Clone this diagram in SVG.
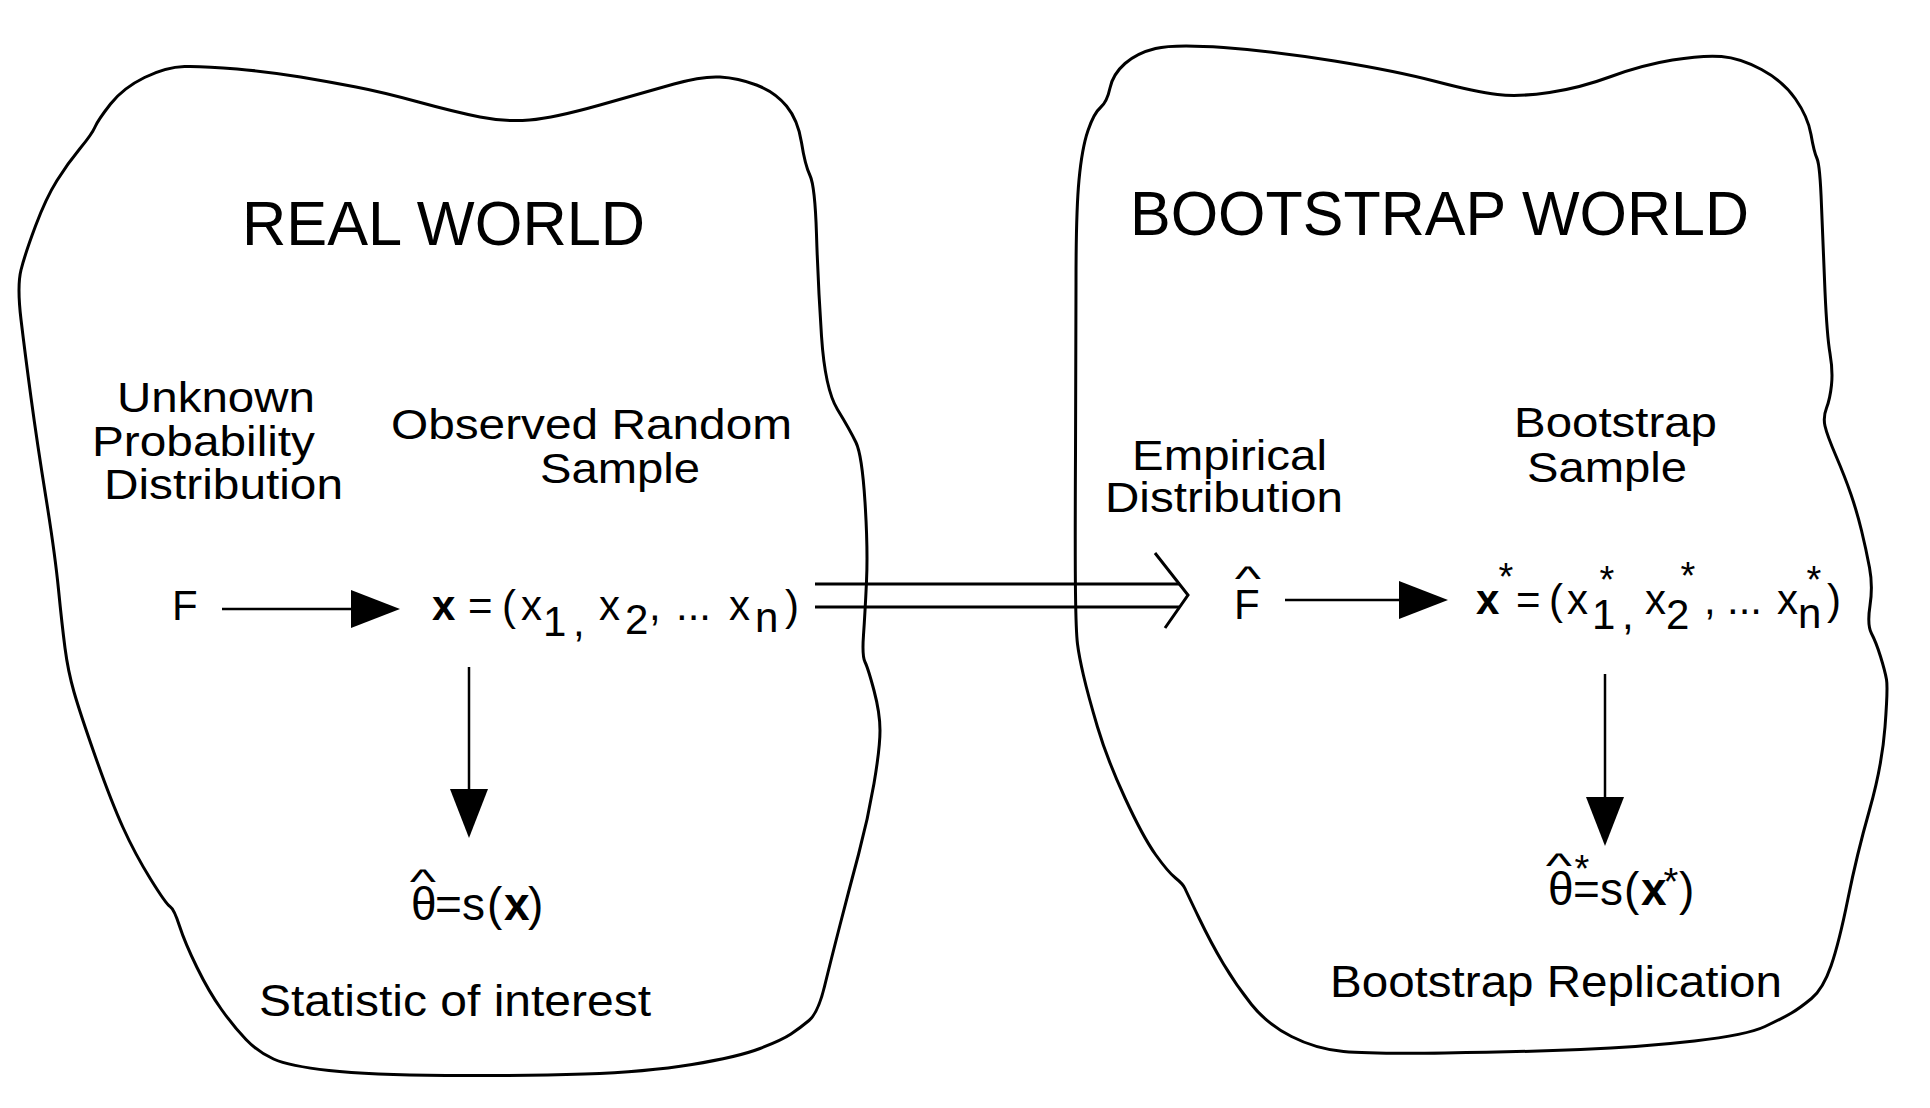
<svg xmlns="http://www.w3.org/2000/svg" width="1930" height="1108" viewBox="0 0 1930 1108">
<defs>
<style>
text { font-family: "Liberation Sans", Arial, Helvetica, sans-serif; fill: #000; }
.title { font-size: 63px; }
.lbl { font-size: 43px; }
.bot { font-size: 44px; }
.eq { font-size: 42px; }
.th { font-size: 46px; }
.b { font-weight: bold; }
.star { font-size: 38px; }
.hat { font-size: 40px; }
.blob { fill: none; stroke: #000; stroke-width: 3; stroke-linejoin: round; }
.arrow { stroke: #000; stroke-width: 2.5; fill: none; }
.dbl { stroke: #000; stroke-width: 3; fill: none; stroke-linejoin: miter; }
</style>
<marker id="ah" markerUnits="userSpaceOnUse" markerWidth="50" markerHeight="40" viewBox="0 0 50 40" refX="39" refY="19" orient="auto">
<path d="M0,0 L49,19 L0,38 Z" fill="#000"/>
</marker>
</defs>
<rect width="1930" height="1108" fill="#fff"/>

<g id="real-world">
<path class="blob" d="M144.5,77.5 Q166,67 184.5,66.5 Q203,66 237,69 Q271,72 300.5,77 Q330,82 356,87 Q382,92 418.5,102 Q455,112 480,117 Q505,122 529.5,120 Q554,118 600,105 Q646,92 674,84 Q702,76 720,77 Q738,78 756.5,85 Q775,92 786.5,106 Q798,120 801.5,142.5 Q805,165 810,175.5 Q815,186 816.5,234.5 Q818,283 821.5,336 Q825,389 837.5,409.5 Q850,430 856,442.5 Q862,455 865,502 Q868,549 866.5,581.5 Q865,614 863.5,635 Q862,656 865,662 Q868,668 874,690.5 Q880,713 880,730.5 Q880,748 874,783.5 Q868,819 858.5,854.5 Q849,890 840,925 Q831,960 824.5,986.5 Q818,1013 809,1020.5 Q800,1028 791,1034 Q782,1040 760,1048.5 Q738,1057 692,1064.5 Q646,1072 584.5,1074 Q523,1076 446,1075.5 Q369,1075 329,1070.5 Q289,1066 273.5,1059 Q258,1052 246,1039.5 Q234,1027 221.5,1009.5 Q209,992 197,967.5 Q185,943 179.5,926 Q174,909 170,906.5 Q166,904 150.5,879 Q135,854 123,827.5 Q111,801 95.5,757 Q80,713 74,692 Q68,671 65,648 Q62,625 58.5,589.5 Q55,554 46,498 Q37,442 31,397.5 Q25,353 21,319.5 Q17,286 21,270 Q25,254 35.5,226 Q46,198 57,180.5 Q68,163 80,148.5 Q92,134 95,127 Q98,120 110.5,104 Q123,88 144.5,77.5 Z"/>
<text class="title" x="242" y="245" textLength="403" lengthAdjust="spacingAndGlyphs">REAL WORLD</text>
</g>

<g id="bootstrap-world">
<path class="blob" d="M1155.5,48.5 Q1174,44 1223.5,47.5 Q1273,51 1334.5,61 Q1396,71 1436,81.5 Q1476,92 1497.5,94.5 Q1519,97 1549.5,92.5 Q1580,88 1611,76.5 Q1642,65 1672.5,60 Q1703,55 1721.5,56.5 Q1740,58 1761.5,69.5 Q1783,81 1795.5,99 Q1808,117 1811,134.5 Q1814,152 1817,158.5 Q1820,165 1821.5,206 Q1823,247 1825,291.5 Q1827,336 1830,353.5 Q1833,371 1831.5,385 Q1830,399 1826.5,408 Q1823,417 1825,426 Q1827,435 1836,456 Q1845,477 1851,494.5 Q1857,512 1861.5,530.5 Q1866,549 1869.5,567.5 Q1873,586 1870,605.5 Q1867,625 1871.5,633.5 Q1876,642 1880.5,656.5 Q1885,671 1886.5,679.5 Q1888,688 1885,727 Q1882,766 1869.5,810 Q1857,854 1848,898.5 Q1839,943 1831,966 Q1823,989 1811.5,998.5 Q1800,1008 1791.5,1013 Q1783,1018 1765,1026.5 Q1747,1035 1694.5,1041 Q1642,1047 1580.5,1049.5 Q1519,1052 1445,1053 Q1371,1054 1343.5,1051.5 Q1316,1049 1291.5,1036.5 Q1267,1024 1251.5,1004.5 Q1236,985 1223.5,964 Q1211,943 1199,918 Q1187,893 1185,888.5 Q1183,884 1175.5,878 Q1168,872 1155.5,854.5 Q1143,837 1125,798 Q1107,759 1097.5,727 Q1088,695 1083.5,675.5 Q1079,656 1077.5,644 Q1076,632 1075.5,593 Q1075,554 1075.5,453.5 Q1076,353 1076,282.5 Q1076,212 1079,180 Q1082,148 1088,130.5 Q1094,113 1100.5,107.5 Q1107,102 1110,88 Q1113,74 1125,63.5 Q1137,53 1155.5,48.5 Z"/>
<text class="title" x="1130" y="235" textLength="619" lengthAdjust="spacingAndGlyphs">BOOTSTRAP WORLD</text>
</g>

<g id="connectors">
<line class="arrow" x1="222" y1="609" x2="390" y2="609" marker-end="url(#ah)"/>
<line class="arrow" x1="1285" y1="600" x2="1438" y2="600" marker-end="url(#ah)"/>
<line class="arrow" x1="469" y1="667" x2="469" y2="828" marker-end="url(#ah)"/>
<line class="arrow" x1="1605" y1="674" x2="1605" y2="836" marker-end="url(#ah)"/>
<path class="dbl" d="M815,584 H1180 M815,607 H1179"/>
<polyline class="dbl" points="1155,553 1188,595 1165,628"/>
</g>

<g id="unknown-distribution">
<text class="lbl" x="117" y="412" textLength="198" lengthAdjust="spacingAndGlyphs">Unknown</text>
<text class="lbl" x="92" y="456" textLength="223" lengthAdjust="spacingAndGlyphs">Probability</text>
<text class="lbl" x="104" y="499" textLength="239" lengthAdjust="spacingAndGlyphs">Distribution</text>
</g>

<g id="observed-sample">
<text class="lbl" x="391" y="439" textLength="401" lengthAdjust="spacingAndGlyphs">Observed Random</text>
<text class="lbl" x="540" y="483" textLength="160" lengthAdjust="spacingAndGlyphs">Sample</text>
</g>

<g id="node-F">
<text class="eq" x="172" y="620">F</text>
</g>

<g id="node-x">
<text class="eq" y="620"><tspan x="432" class="b">x</tspan><tspan x="468">=</tspan><tspan x="502">(</tspan><tspan x="521">x</tspan><tspan x="543" y="636">1</tspan><tspan x="573" y="636">,</tspan><tspan x="599" y="620">x</tspan><tspan x="625" y="634">2</tspan><tspan x="649" y="620">,</tspan><tspan x="676">...</tspan><tspan x="729">x</tspan><tspan x="755" y="632">n</tspan><tspan x="785" y="620">)</tspan></text>
</g>

<g id="node-theta">
<text class="hat" text-anchor="middle" transform="translate(423,894) scale(1.4,0.9)">^</text>
<text class="th" y="920"><tspan x="411">θ</tspan><tspan x="435">=</tspan><tspan x="462">s</tspan><tspan x="487">(</tspan><tspan x="504" class="b">x</tspan><tspan x="528">)</tspan></text>
</g>

<g id="statistic-label">
<text class="bot" x="259" y="1016" textLength="392" lengthAdjust="spacingAndGlyphs">Statistic of interest</text>
</g>

<g id="empirical-distribution">
<text class="lbl" x="1132" y="470" textLength="195" lengthAdjust="spacingAndGlyphs">Empirical</text>
<text class="lbl" x="1105" y="512" textLength="238" lengthAdjust="spacingAndGlyphs">Distribution</text>
</g>

<g id="bootstrap-sample">
<text class="lbl" x="1514" y="437" textLength="203" lengthAdjust="spacingAndGlyphs">Bootstrap</text>
<text class="lbl" x="1527" y="482" textLength="160" lengthAdjust="spacingAndGlyphs">Sample</text>
</g>

<g id="node-Fhat">
<text class="hat" text-anchor="middle" transform="translate(1248,591) scale(1.4,0.9)">^</text>
<text class="eq" x="1234" y="619">F</text>
</g>

<g id="node-xstar">
<text class="eq" y="614"><tspan x="1476" class="b">x</tspan><tspan x="1516">=</tspan><tspan x="1549">(</tspan><tspan x="1567">x</tspan><tspan x="1592" y="629">1</tspan><tspan x="1622" y="629">,</tspan><tspan x="1645" y="614">x</tspan><tspan x="1666" y="629">2</tspan><tspan x="1704" y="614">,</tspan><tspan x="1727">...</tspan><tspan x="1777">x</tspan><tspan x="1798" y="628">n</tspan><tspan x="1827" y="614">)</tspan></text>
<text class="star" text-anchor="middle" x="1506" y="590">*</text>
<text class="star" text-anchor="middle" x="1607" y="593">*</text>
<text class="star" text-anchor="middle" x="1688" y="589">*</text>
<text class="star" text-anchor="middle" x="1814" y="593">*</text>
</g>

<g id="node-thetastar">
<text class="hat" text-anchor="middle" transform="translate(1559,878) scale(1.4,0.9)">^</text>
<text class="star" text-anchor="middle" x="1582" y="882">*</text>
<text class="th" y="905"><tspan x="1548">θ</tspan><tspan x="1573">=</tspan><tspan x="1600">s</tspan><tspan x="1624">(</tspan><tspan x="1641" class="b">x</tspan><tspan x="1679">)</tspan></text>
<text class="star" text-anchor="middle" x="1671" y="895">*</text>
</g>

<g id="replication-label">
<text class="bot" x="1330" y="997" textLength="452" lengthAdjust="spacingAndGlyphs">Bootstrap Replication</text>
</g>
</svg>
